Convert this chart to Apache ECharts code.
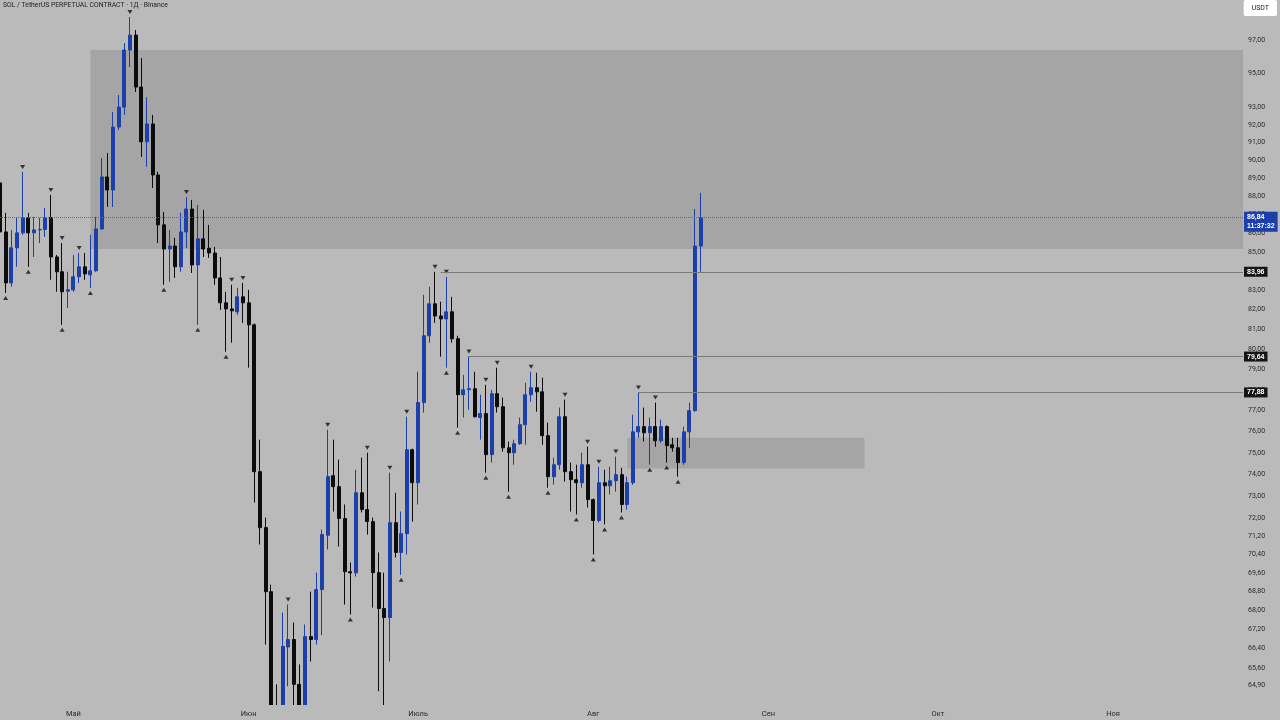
<!DOCTYPE html>
<html>
<head>
<meta charset="utf-8">
<title>SOL / TetherUS PERPETUAL CONTRACT</title>
<script src="https://cdn.jsdelivr.net/npm/echarts@6/dist/echarts.min.js"></script>
<style>
html, body { margin: 0; padding: 0; background: #bababa; }
#main { width: 1280px; height: 720px; }
</style>
</head>
<body>
<div id="main"></div>
<script>
// Daily candles, first visible day and number of days on the axis
var startDate = Date.UTC(2025, 3, 18);
var dayCount = 221;
var monthNames = ['Янв', 'Фев', 'Мар', 'Апр', 'Май', 'Июн', 'Июль', 'Авг', 'Сен', 'Окт', 'Ноя', 'Дек'];

var opens = [
    88.74, 86.07, 83.38, 85.22, 86.02, 86.83, 86.02, 86.18, 86.20, 86.85,
    84.74, 83.96, 82.95, 83.02, 83.70, 84.22, 83.80, 84.01, 86.23, 89.07,
    88.35, 91.88, 93.03, 96.40, 97.30, 94.20, 91.04, 92.06, 89.18, 86.45,
    85.16, 85.32, 84.22, 86.07, 87.31, 84.32, 85.70, 85.20, 84.95, 83.64,
    82.35, 82.04, 81.89, 82.66, 82.35, 81.23, 74.13, 71.59, 68.79, 63.40,
    63.10, 66.46, 66.77, 64.93, 63.60, 66.89, 66.77, 68.88, 71.25, 73.94,
    73.44, 72.00, 69.65, 69.60, 73.16, 72.40, 71.86, 69.61, 68.07, 67.69,
    71.81, 70.49, 71.32, 75.15, 73.62, 77.39, 80.68, 82.30, 81.68, 81.53,
    81.89, 80.53, 77.77, 78.01, 78.06, 76.67, 76.86, 74.92, 77.82, 77.19,
    75.24, 75.01, 75.43, 76.33, 77.77, 78.11, 77.91, 75.81, 73.90, 74.45,
    76.71, 74.13, 73.76, 73.62, 74.45, 72.85, 71.91, 73.62, 73.48, 73.71,
    73.99, 72.63, 73.62, 75.99, 76.24, 75.95, 76.24, 75.57, 76.24, 75.38,
    75.24, 74.55, 75.99, 77.00, 85.32
];
var closes = [
    86.07, 83.38, 85.22, 86.02, 86.83, 86.02, 86.18, 86.20, 86.83, 84.74,
    83.96, 82.92, 83.02, 83.70, 84.22, 83.85, 84.01, 86.23, 89.07, 88.35,
    91.88, 93.03, 96.40, 97.30, 94.20, 91.04, 92.06, 89.18, 86.45, 85.16,
    85.32, 84.22, 86.07, 87.31, 84.32, 85.70, 85.16, 84.95, 83.64, 82.35,
    82.04, 81.94, 82.66, 82.35, 81.23, 74.13, 71.59, 68.79, 63.40, 63.10,
    66.48, 66.77, 64.93, 63.60, 66.89, 66.77, 68.88, 71.28, 73.90, 73.44,
    72.00, 69.65, 69.60, 73.16, 72.40, 71.86, 69.61, 68.07, 67.69, 71.81,
    70.49, 71.32, 75.15, 73.62, 77.39, 80.68, 82.30, 81.68, 81.53, 81.89,
    80.53, 77.77, 78.01, 78.06, 76.71, 76.86, 74.92, 77.82, 77.19, 75.24,
    75.01, 75.43, 76.33, 77.77, 78.11, 77.91, 75.81, 73.90, 74.45, 76.71,
    74.13, 73.76, 73.62, 74.45, 72.85, 71.91, 73.62, 73.48, 73.71, 73.99,
    72.63, 73.62, 75.99, 76.24, 75.95, 76.24, 75.57, 76.24, 75.34, 75.24,
    74.55, 75.99, 77.00, 85.32, 86.84
];
var lows = [
    85.90, 82.86, 83.18, 84.22, 85.91, 84.22, 84.74, 85.48, 85.80, 83.54,
    82.92, 81.23, 82.09, 82.92, 83.38, 83.54, 83.12, 83.96, 86.18, 87.42,
    87.42, 91.71, 92.58, 95.38, 93.91, 90.19, 89.63, 88.46, 85.48, 83.28,
    83.44, 83.64, 83.96, 85.22, 83.90, 81.23, 84.74, 84.69, 83.28, 81.99,
    79.88, 80.33, 81.73, 81.33, 79.09, 72.72, 70.84, 66.56, 62.80, 62.40,
    62.90, 64.85, 63.90, 63.20, 63.40, 65.86, 66.56, 66.95, 70.62, 72.31,
    70.75, 68.24, 67.82, 69.44, 72.27, 71.28, 68.11, 64.65, 64.05, 65.86,
    70.27, 69.52, 70.40, 71.86, 72.63, 76.91, 80.33, 81.33, 79.63, 79.09,
    80.33, 76.19, 76.67, 77.05, 76.67, 75.62, 74.08, 74.55, 76.91, 75.06,
    73.21, 74.45, 75.38, 75.38, 77.43, 76.95, 75.38, 73.39, 73.53, 74.22,
    73.67, 72.31, 72.18, 73.39, 72.49, 70.40, 71.82, 71.73, 73.08, 73.21,
    72.27, 72.40, 73.53, 75.71, 75.53, 74.45, 75.29, 75.48, 74.55, 75.06,
    73.90, 74.45, 75.24, 76.95, 83.96
];
var highs = [
    89.10, 87.10, 86.18, 86.83, 89.35, 87.10, 86.88, 86.83, 87.37, 88.08,
    84.85, 85.48, 83.96, 84.85, 84.95, 84.95, 85.91, 86.88, 90.13, 90.41,
    92.75, 93.73, 96.82, 98.40, 97.61, 95.92, 93.61, 92.58, 89.35, 87.15,
    86.18, 85.75, 87.10, 87.96, 87.80, 87.53, 87.26, 86.45, 85.27, 84.74,
    82.92, 83.28, 83.12, 83.38, 83.02, 81.30, 75.62, 72.04, 69.09, 64.93,
    67.90, 68.24, 67.48, 65.74, 67.40, 68.79, 69.61, 71.50, 76.09, 75.62,
    74.69, 72.63, 70.05, 74.22, 74.78, 75.01, 72.04, 70.49, 69.61, 74.08,
    73.16, 72.31, 76.71, 75.20, 78.89, 82.77, 83.18, 83.96, 82.41, 83.70,
    82.66, 80.68, 78.74, 79.64, 78.89, 77.77, 78.25, 78.01, 79.09, 77.63,
    75.53, 75.62, 76.67, 78.35, 78.89, 78.84, 78.60, 76.43, 74.78, 77.15,
    77.53, 74.55, 74.45, 75.01, 75.29, 72.90, 74.36, 74.22, 74.36, 74.83,
    74.31, 73.90, 76.81, 77.88, 77.15, 76.67, 77.39, 76.57, 76.30, 75.71,
    75.71, 76.24, 77.39, 87.31, 88.19
];

// Williams fractal marks (candle indices)
var fractalHighs = [4, 9, 11, 14, 23, 33, 41, 43, 51, 58, 65, 69, 72, 77, 79, 83, 86, 88, 94, 100, 104, 106, 109, 113, 116];
var fractalLows = [1, 5, 11, 16, 29, 35, 40, 62, 71, 79, 81, 86, 90, 97, 102, 105, 107, 110, 115, 118, 120];

// Horizontal levels drawn from a candle high to the right edge
var levelPrices = [83.96, 79.64, 77.88];
var levelStarts = [78, 83, 113];
var levelLabels = ['83,96', '79,64', '77,88'];

var lastPrice = 86.84;
var lastPriceLabel = '86,84';
var countdown = '11:37:32';

// Supply / demand zones
var zoneFrom = [16, 111];
var zoneTo = [220, 153];
var zoneHigh = [96.40, 75.71];
var zoneLow = [85.16, 74.27];

// Price scale (logarithmic)
var priceTicks = [97, 95, 93, 92, 91, 90, 89, 88, 87, 86, 85, 84, 83, 82, 81, 80, 79, 78, 77, 76, 75, 74, 73, 72,
    71.2, 70.4, 69.6, 68.8, 68, 67.2, 66.4, 65.6, 64.9];
var priceTop = 99.45;
var priceBottom = 64.10;

var bgColor = '#bababa';
var upColor = '#1d3fa9';
var downColor = '#0c0c0c';

// Build categories
var categories = [];
for (var i = 0; i < dayCount; i++) {
    categories.push(new Date(startDate + i * 86400000).toISOString().slice(0, 10));
}

var candleData = opens.map(function (o, i) {
    return [Math.log(o), Math.log(closes[i]), Math.log(lows[i]), Math.log(highs[i])];
});

function fmtPrice(v) {
    return Math.exp(v).toFixed(2).replace('.', ',');
}

var zoneData = zoneFrom.map(function (f, k) {
    return [
        { coord: [f, Math.log(zoneHigh[k])] },
        { coord: [zoneTo[k], Math.log(zoneLow[k])] }
    ];
});

var lineData = levelPrices.map(function (p, k) {
    return [
        {
            coord: [levelStarts[k], Math.log(p)],
            label: {
                show: true, position: 'end', distance: 1,
                formatter: levelLabels[k],
                color: '#fff', backgroundColor: '#151515',
                fontSize: 7, fontWeight: 'bold', padding: [2, 3, 1, 3]
            }
        },
        { coord: [dayCount - 1, Math.log(p)] }
    ];
});
lineData.push([
    {
        coord: [0, Math.log(lastPrice)],
        lineStyle: { type: 'dotted', color: '#6a6a6a' },
        label: {
            show: true, position: 'end', distance: 1,
            formatter: lastPriceLabel + '\n' + countdown,
            color: '#fff', backgroundColor: upColor,
            fontSize: 7, lineHeight: 9, fontWeight: 'bold', padding: [1, 3, 1, 3],
            offset: [0, 4]
        }
    },
    { coord: [dayCount - 1, Math.log(lastPrice)] }
]);

var myChart = echarts.init(document.getElementById('main'));

var option = {
    animation: false,
    backgroundColor: bgColor,
    title: [
        {
            text: 'SOL / TetherUS PERPETUAL CONTRACT · 1Д · Binance',
            left: 3, top: 2, padding: 0,
            textStyle: { fontSize: 6.8, fontWeight: 'normal', color: '#1e1e1e', fontFamily: 'Roboto' }
        },
        {
            text: 'USDT',
            right: 3, top: 0, padding: [5, 8, 4, 8],
            backgroundColor: '#ffffff', borderRadius: 2,
            textStyle: { fontSize: 7, fontWeight: 'normal', color: '#222', fontFamily: 'Roboto' }
        }
    ],
    // strip under the plot so candles below the price range are cut off at the axis
    graphic: [{
        type: 'rect',
        left: 0, bottom: 0, z: 9,
        shape: { width: 1243, height: 15 },
        style: { fill: bgColor },
        silent: true
    }],
    grid: { left: 0, right: 37, top: 0, bottom: 15 },
    xAxis: {
        type: 'category',
        data: categories,
        boundaryGap: false,
        z: 10,
        axisLine: { show: false },
        axisTick: { show: false },
        splitLine: { show: false },
        axisLabel: {
            interval: function (index, value) { return value.slice(8) === '01'; },
            formatter: function (value) { return monthNames[+value.slice(5, 7) - 1]; },
            fontSize: 7.5, color: '#2a2a2a', margin: 5, fontFamily: 'Roboto'
        }
    },
    yAxis: {
        type: 'value',
        position: 'right',
        scale: true,
        min: Math.log(priceBottom),
        max: Math.log(priceTop),
        axisLine: { show: false },
        axisTick: { show: false },
        splitLine: { show: false },
        axisLabel: {
            customValues: priceTicks.map(Math.log),
            formatter: fmtPrice,
            fontSize: 7, color: '#2a2a2a', margin: 5, fontFamily: 'Roboto'
        }
    },
    series: [
        {
            name: 'SOL',
            type: 'candlestick',
            data: candleData,
            barWidth: 3.5,
            z: 3,
            itemStyle: {
                color: upColor, color0: downColor,
                borderColor: upColor, borderColor0: downColor,
                borderWidth: 1
            },
            markArea: {
                silent: true,
                itemStyle: { color: 'rgba(0,0,0,0.11)' },
                data: zoneData
            }
        },
        {
            name: 'fractal high',
            type: 'scatter',
            data: fractalHighs.map(function (i) { return [i, Math.log(highs[i])]; }),
            symbol: 'triangle', symbolRotate: 180, symbolSize: [5, 4], symbolOffset: [0, -5],
            itemStyle: { color: '#111' },
            silent: true, z: 4
        },
        {
            name: 'fractal low',
            type: 'scatter',
            data: fractalLows.map(function (i) { return [i, Math.log(lows[i])]; }),
            symbol: 'triangle', symbolSize: [5, 4], symbolOffset: [0, 5],
            itemStyle: { color: '#111' },
            silent: true, z: 4
        },
        {
            name: 'levels',
            type: 'line',
            data: [],
            clip: false,
            z: 5,
            markLine: {
                silent: true,
                symbol: 'none',
                lineStyle: { color: '#7a7a7a', width: 1, type: 'solid' },
                data: lineData
            }
        }
    ]
};

myChart.setOption(option);
</script>
</body>
</html>
